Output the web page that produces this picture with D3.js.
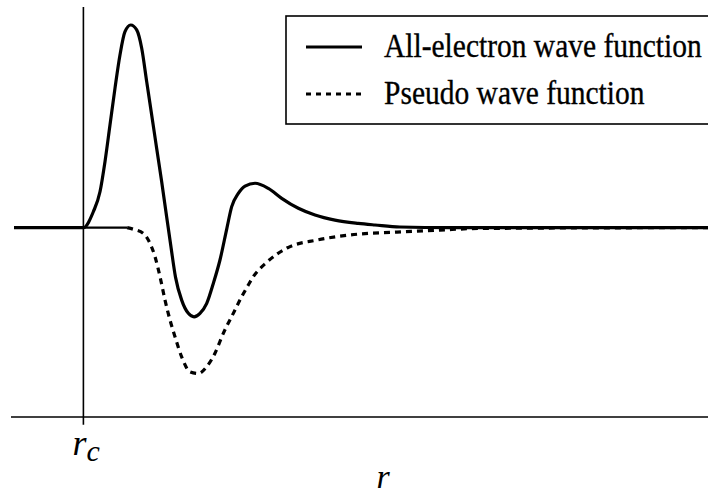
<!DOCTYPE html>
<html>
<head>
<meta charset="utf-8">
<script src="https://cdn.jsdelivr.net/npm/d3@7"></script>
<style>
  body { margin: 0; background: #fff; }
  svg { display: block; }
  text { font-family: 'Liberation Serif', 'Times New Roman', 'DejaVu Serif', serif; }
</style>
</head>
<body>
<script>
// r in arbitrary units, r_c = 10
let rValuesAE = [0, 10, 11.43, 12.39, 13.11, 13.83, 14.55, 15.27, 15.99, 16.82, 17.68, 18.40, 19.12, 19.84, 20.56, 21.28, 22.0, 22.62, 23.27, 24.16, 25.12, 25.94, 26.80, 27.77, 28.72, 29.68, 30.65, 31.37, 32.32, 33.29, 34.73, 36.64, 38.57, 40.97, 43.37, 46.25, 49.60, 52.02, 55.6, 62.8, 100]
let allElectron = [0, 0, 7.8, 17.6, 32.4, 50.4, 68.4, 84.8, 96.2, 99.5, 97.1, 88.1, 71.7, 55.3, 38.9, 22.5, 5.2, -9.5, -24.3, -35.6, -42.1, -43.8, -42.1, -37.2, -27.4, -15.9, -0.7, 10.3, 16.8, 20.4, 21.8, 19.3, 14.4, 9.5, 6.2, 3.7, 2.1, 1.3, 0.3, 0, 0]

let rValuesPS = [16.3, 17.19, 18.63, 19.60, 20.32, 21.04, 21.76, 22.48, 23.20, 24.16, 25.36, 26.56, 27.77, 28.96, 30.16, 31.60, 32.81, 33.76, 34.44, 36.46, 39.34, 43.66, 48.41, 55.19, 61.38, 67.15, 100]
let pseudo = [0, -0.8, -2.8, -7.7, -14.3, -24.1, -35.6, -45.4, -53.6, -63.5, -70.8, -71.6, -68.3, -61.7, -51.9, -42.1, -33.9, -28.2, -24.3, -16.9, -10.0, -6.1, -3.6, -2.2, -1.2, -0.4, 0]

// flat part left of the pseudo curve
let baseline = [[0, 0], [16.3, 0]]

let rc = 10
let legendLabels = ['All-electron wave function', 'Pseudo wave function']

let width = 708
let height = 495

let x = d3.scaleLinear().domain([0, 100]).range([14, 708])
let y = d3.scaleLinear().domain([-93, 100]).range([417, 24])

let svg = d3.select('body')
    .append('svg')
    .attr('width', width)
    .attr('height', height)

// axes
svg.append('line')
    .attr('x1', 11).attr('x2', 708)
    .attr('y1', y(-93)).attr('y2', y(-93))
    .attr('stroke', '#000').attr('stroke-width', 1.6)

svg.append('line')
    .attr('x1', x(rc)).attr('x2', x(rc))
    .attr('y1', y(108.3)).attr('y2', y(-96.8))
    .attr('stroke', '#000').attr('stroke-width', 1.6)

let line = d3.line()
    .x(d => x(d[0]))
    .y(d => y(d[1]))
    .curve(d3.curveMonotoneX)

svg.append('path')
    .datum(baseline)
    .attr('d', line)
    .attr('fill', 'none')
    .attr('stroke', '#000')
    .attr('stroke-width', 2.2)

svg.append('path')
    .datum(rValuesPS.map((r, i) => [r, pseudo[i]]))
    .attr('d', line)
    .attr('fill', 'none')
    .attr('stroke', '#000')
    .attr('stroke-width', 3.2)
    .attr('stroke-dasharray', '6,5')

svg.append('path')
    .datum(rValuesAE.map((r, i) => [r, allElectron[i]]))
    .attr('d', line)
    .attr('fill', 'none')
    .attr('stroke', '#000')
    .attr('stroke-width', 3.2)

// legend
let legend = svg.append('g')
legend.append('rect')
    .attr('x', 286).attr('y', 16)
    .attr('width', 440).attr('height', 108)
    .attr('fill', '#fff')
    .attr('stroke', '#000').attr('stroke-width', 1.6)

legendLabels.forEach((lab, i) => {
    let ly = 47 + i * 47
    legend.append('line')
        .attr('x1', 306).attr('x2', i == 0 ? 362 : 361)
        .attr('y1', ly).attr('y2', ly)
        .attr('stroke', '#000')
        .attr('stroke-width', 3.2)
        .attr('stroke-dasharray', i == 0 ? null : '5,5')
    legend.append('text')
        .attr('transform', `translate(384,${ly + 10}) scale(1,1.12)`)
        .attr('font-size', 29.5)
        .attr('stroke', '#000')
        .attr('stroke-width', 0.3)
        .text(lab)
})

// axis labels
let rcLabel = svg.append('text')
    .attr('x', x(rc) - 11).attr('y', 455)
    .attr('font-style', 'italic')
    .attr('font-size', 36)
rcLabel.append('tspan').text('r')
rcLabel.append('tspan').attr('dy', 6).attr('font-size', 30).text('c')

svg.append('text')
    .attr('x', 383).attr('y', 488)
    .attr('text-anchor', 'middle')
    .attr('font-style', 'italic')
    .attr('font-size', 34)
    .text('r')
</script>
</body>
</html>
